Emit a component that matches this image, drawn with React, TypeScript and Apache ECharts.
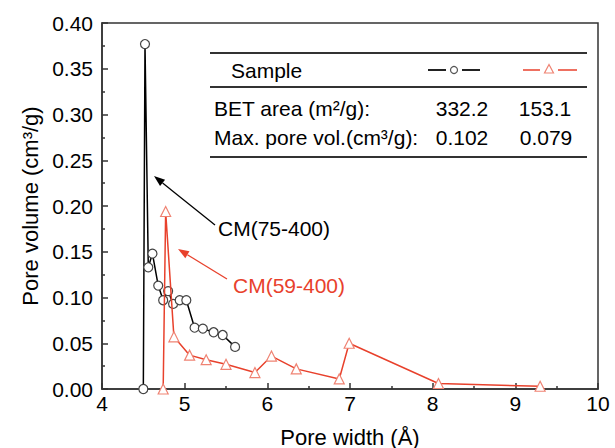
import React, { useEffect, useRef } from "react";
import * as echarts from "echarts";

const cm75Width = [4.5, 4.52, 4.56, 4.61, 4.68, 4.74, 4.8, 4.86, 4.94, 5.02, 5.12, 5.22, 5.35, 5.46, 5.61];
const cm75Vol = [0.0, 0.377, 0.133, 0.148, 0.113, 0.097, 0.107, 0.093, 0.097, 0.097, 0.067, 0.066, 0.062, 0.059, 0.046];

const cm59Width = [4.74, 4.77, 4.87, 5.06, 5.26, 5.5, 5.85, 6.05, 6.35, 6.87, 6.99, 8.07, 9.3];
const cm59Vol = [0.0, 0.194, 0.057, 0.037, 0.032, 0.027, 0.018, 0.036, 0.022, 0.011, 0.05, 0.006, 0.003];

const sampleNames = ["CM(75-400)", "CM(59-400)"];
const betArea = ["332.2", "153.1"];
const maxPoreVol = ["0.102", "0.079"];

const FONT = "'Liberation Sans', Arial, sans-serif";
const BLACK = "#000000";
const RED = "#e8412c";
const RED_MARK = "#ef8373";

function arrow(x1: number, y1: number, x2: number, y2: number, color: string) {
  // tail (x1,y1) -> tip (x2,y2)
  const ang = Math.atan2(y2 - y1, x2 - x1);
  const L = 11, W = 4;
  const bx = x2 - L * Math.cos(ang), by = y2 - L * Math.sin(ang);
  const px = -Math.sin(ang) * W, py = Math.cos(ang) * W;
  return [
    { type: "line", shape: { x1, y1, x2: bx, y2: by }, style: { stroke: color, lineWidth: 1.3 } },
    {
      type: "polygon",
      shape: { points: [[x2, y2], [bx + px, by + py], [bx - px, by - py]] },
      style: { fill: color },
    },
  ];
}

export default function App() {
  const ref = useRef<HTMLDivElement>(null);
  useEffect(() => {
    const chart = echarts.init(ref.current!, null, { renderer: "svg" });
    const tf = { fontFamily: FONT, fontSize: 21, color: "#000" };
    const lineSt = { stroke: "#333", lineWidth: 1.8 };
    const T = `21px ${FONT}`;
    chart.setOption({
      animation: false,
      backgroundColor: "#fff",
      grid: {
        left: 102, right: 17, top: 23, bottom: 59,
        outerBoundsMode: "none",
        containLabel: false,
        show: true, borderColor: "#333", borderWidth: 1.5,
      },
      xAxis: {
        type: "value",
        min: 4,
        max: 10,
        interval: 1,
        name: "Pore width (Å)",
        nameLocation: "middle",
        nameGap: 37,
        nameTextStyle: { fontFamily: FONT, fontSize: 22, color: "#000" },
        axisLine: { show: true, lineStyle: { color: "#333", width: 1.5 } },
        axisTick: { show: true, inside: true, length: 6, lineStyle: { color: "#333", width: 1.5 } },
        minorTick: { show: true, splitNumber: 2, length: 3, lineStyle: { color: "#333", width: 1.5 } },
        axisLabel: { ...tf, margin: 4 },
        splitLine: { show: false },
      },
      yAxis: {
        type: "value",
        min: 0,
        max: 0.4,
        interval: 0.05,
        name: "Pore volume (cm³/g)",
        nameLocation: "middle",
        nameGap: 60,
        nameTextStyle: { fontFamily: FONT, fontSize: 22, color: "#000" },
        axisLine: { show: true, lineStyle: { color: "#333", width: 1.5 } },
        axisTick: { show: true, inside: true, length: 6, lineStyle: { color: "#333", width: 1.5 } },
        minorTick: { show: true, splitNumber: 2, length: 3, lineStyle: { color: "#333", width: 1.5 } },
        axisLabel: { ...tf, margin: 9, formatter: (v: number) => v.toFixed(2) },
        splitLine: { show: false },
      },
      series: [
        {
          name: sampleNames[0],
          type: "line",
          data: cm75Width.map((x, i) => [x, cm75Vol[i]]),
          symbol: "circle",
          symbolSize: 9,
          lineStyle: { color: BLACK, width: 1.5 },
          itemStyle: { color: "#fff", borderColor: "#444", borderWidth: 1.2 },
          z: 3,
        },
        {
          name: sampleNames[1],
          type: "line",
          data: cm59Width.map((x, i) => [x, cm59Vol[i]]),
          symbol: "triangle",
          symbolSize: 10,
          lineStyle: { color: RED, width: 1.5 },
          itemStyle: { color: "#fff", borderColor: RED_MARK, borderWidth: 1.2 },
          z: 4,
        },
      ],
      graphic: [
        { type: "line", shape: { x1: 210, y1: 53, x2: 587, y2: 53 }, style: lineSt },
        { type: "line", shape: { x1: 210, y1: 87, x2: 587, y2: 87 }, style: lineSt },
        { type: "line", shape: { x1: 210, y1: 157, x2: 587, y2: 157 }, style: lineSt },
        { type: "text", x: 231, y: 70, style: { text: "Sample", font: T, fill: "#000", textAlign: "left", textVerticalAlign: "middle" } },
        { type: "text", x: 214, y: 108, style: { text: "BET area (m²/g):", font: T, fill: "#000", textAlign: "left", textVerticalAlign: "middle" } },
        { type: "text", x: 214, y: 137, style: { text: "Max. pore vol.(cm³/g):", font: T, fill: "#000", textAlign: "left", textVerticalAlign: "middle" } },
        { type: "text", x: 462, y: 108, style: { text: betArea[0], font: T, fill: "#000", textAlign: "center", textVerticalAlign: "middle" } },
        { type: "text", x: 545, y: 108, style: { text: betArea[1], font: T, fill: "#000", textAlign: "center", textVerticalAlign: "middle" } },
        { type: "text", x: 462, y: 137, style: { text: maxPoreVol[0], font: T, fill: "#000", textAlign: "center", textVerticalAlign: "middle" } },
        { type: "text", x: 546, y: 137, style: { text: maxPoreVol[1], font: T, fill: "#000", textAlign: "center", textVerticalAlign: "middle" } },
        // legend samples
        { type: "line", shape: { x1: 428, y1: 70, x2: 446, y2: 70 }, style: { stroke: "#222", lineWidth: 2 } },
        { type: "circle", shape: { cx: 454, cy: 70, r: 3.5 }, style: { fill: "#fff", stroke: "#555", lineWidth: 1.2 } },
        { type: "line", shape: { x1: 462, y1: 70, x2: 480, y2: 70 }, style: { stroke: "#222", lineWidth: 2 } },
        { type: "line", shape: { x1: 523, y1: 70, x2: 540, y2: 70 }, style: { stroke: RED, lineWidth: 1.5 } },
        { type: "polygon", shape: { points: [[549, 64.5], [544.5, 73], [553.5, 73]] }, style: { fill: "#fff", stroke: RED_MARK, lineWidth: 1.2 } },
        { type: "line", shape: { x1: 558, y1: 70, x2: 577, y2: 70 }, style: { stroke: RED, lineWidth: 1.5 } },
        // annotations
        ...arrow(215, 225, 154, 176, BLACK),
        ...arrow(227, 279, 178, 249, RED),
        { type: "text", x: 218, y: 228, style: { text: sampleNames[0], font: `21px ${FONT}`, fill: "#000", textAlign: "left", textVerticalAlign: "middle" } },
        { type: "text", x: 233, y: 285, style: { text: sampleNames[1], font: `21px ${FONT}`, fill: RED, textAlign: "left", textVerticalAlign: "middle" } },
      ],
    });
    return () => chart.dispose();
  }, []);
  return <div ref={ref} style={{ position: "fixed", left: 0, top: 0, width: 615, height: 448 }} />;
}
